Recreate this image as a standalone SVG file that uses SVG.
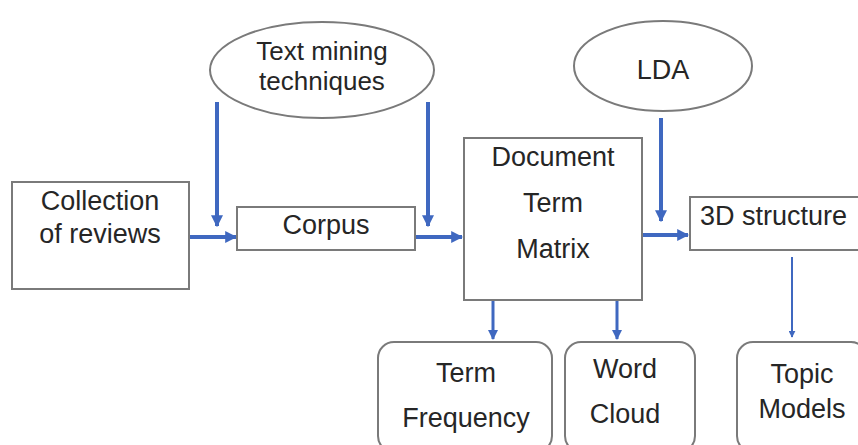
<svg xmlns="http://www.w3.org/2000/svg" width="858" height="445" viewBox="0 0 858 445">
  <style>
    .box { fill: #ffffff; stroke: #7a7a7a; stroke-width: 2; }
    .lbl { font-family: "Liberation Sans", Arial, sans-serif; font-size: 27px; fill: #262626; text-anchor: middle; }
    .flow { stroke: #3f68c0; fill: none; }
  </style>
  <defs>
    <marker id="head" viewBox="0 0 10 10" refX="9" refY="5" markerWidth="3" markerHeight="3" orient="auto" markerUnits="strokeWidth">
      <path d="M0,0 L10,5 L0,10 z" fill="#3f68c0"/>
    </marker>
    <marker id="headThin" viewBox="0 0 10 10" refX="9" refY="5" markerWidth="3.5" markerHeight="3.5" orient="auto" markerUnits="strokeWidth">
      <path d="M0,0 L10,5 L0,10 z" fill="#3f68c0"/>
    </marker>
  </defs>

  <rect width="858" height="445" fill="#ffffff"/>

  <g id="connectors">
    <line class="flow" x1="190" y1="237" x2="236" y2="237" stroke-width="4" marker-end="url(#head)"/>
    <line class="flow" x1="217" y1="102" x2="217" y2="226" stroke-width="4" marker-end="url(#head)"/>
    <line class="flow" x1="428" y1="102" x2="428" y2="226" stroke-width="4" marker-end="url(#head)"/>
    <line class="flow" x1="416" y1="237" x2="462" y2="237" stroke-width="4" marker-end="url(#head)"/>
    <line class="flow" x1="661" y1="118" x2="661" y2="221" stroke-width="4" marker-end="url(#head)"/>
    <line class="flow" x1="643" y1="235" x2="688" y2="235" stroke-width="4" marker-end="url(#head)"/>
    <line class="flow" x1="493" y1="301" x2="493" y2="339" stroke-width="3" marker-end="url(#headThin)"/>
    <line class="flow" x1="617" y1="301" x2="617" y2="339" stroke-width="3" marker-end="url(#headThin)"/>
    <line class="flow" x1="792" y1="257" x2="792" y2="337" stroke-width="2" marker-end="url(#headThin)"/>
  </g>

  <g id="collection">
    <rect class="box" x="12" y="182" width="177" height="107"/>
    <text class="lbl" x="100" y="210">Collection</text>
    <text class="lbl" x="100" y="243">of reviews</text>
  </g>

  <g id="text-mining">
    <ellipse class="box" cx="322" cy="70" rx="112" ry="48"/>
    <text class="lbl" x="322" y="60" style="font-size:26px">Text mining</text>
    <text class="lbl" x="322" y="90" style="font-size:26px">techniques</text>
  </g>

  <g id="corpus">
    <rect class="box" x="237" y="207" width="178" height="43"/>
    <text class="lbl" x="326" y="234">Corpus</text>
  </g>

  <g id="dtm">
    <rect class="box" x="464" y="138" width="178" height="162"/>
    <text class="lbl" x="553" y="166">Document</text>
    <text class="lbl" x="553" y="212">Term</text>
    <text class="lbl" x="553" y="258">Matrix</text>
  </g>

  <g id="lda">
    <ellipse class="box" cx="663" cy="66" rx="89" ry="45"/>
    <text class="lbl" x="663" y="79">LDA</text>
  </g>

  <g id="structure">
    <rect class="box" x="690" y="197" width="170" height="53"/>
    <text class="lbl" x="700" y="225" style="text-anchor:start">3D structure</text>
  </g>

  <g id="term-frequency">
    <rect class="box" x="378" y="342" width="174" height="110" rx="16"/>
    <text class="lbl" x="466" y="382">Term</text>
    <text class="lbl" x="466" y="427">Frequency</text>
  </g>

  <g id="word-cloud">
    <rect class="box" x="565" y="342" width="130" height="110" rx="16"/>
    <text class="lbl" x="625" y="378">Word</text>
    <text class="lbl" x="625" y="423">Cloud</text>
  </g>

  <g id="topic-models">
    <rect class="box" x="737" y="342" width="130" height="110" rx="16"/>
    <text class="lbl" x="802" y="383">Topic</text>
    <text class="lbl" x="802" y="418">Models</text>
  </g>
</svg>
